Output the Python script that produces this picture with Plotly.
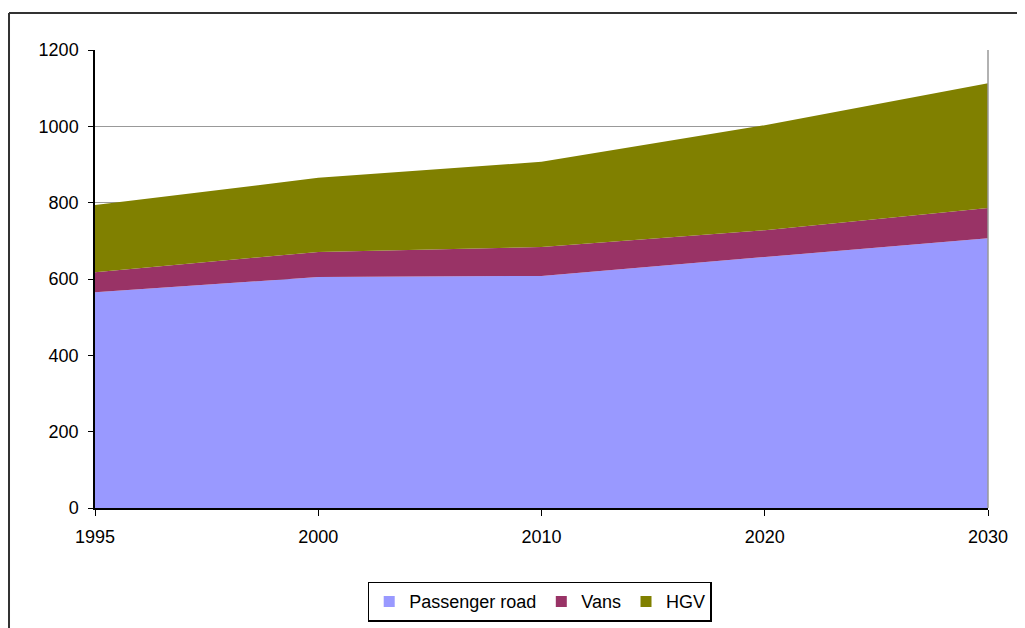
import plotly.graph_objects as go

years = ["1995", "2000", "2010", "2020", "2030"]
passenger_road = [565, 605, 608, 658, 707]
vans = [53, 66, 76, 70, 79]
hgv = [176, 194, 223, 275, 327]
y_ticks = [0, 200, 400, 600, 800, 1000, 1200]

series = [
    ("Passenger road", passenger_road, "#9999FF"),
    ("Vans", vans, "#993366"),
    ("HGV", hgv, "#808000"),
]

fig = go.Figure()
for name, values, color in series:
    fig.add_trace(
        go.Scatter(
            x=years,
            y=values,
            name=name,
            mode="lines",
            stackgroup="one",
            line=dict(width=0, color=color),
            fillcolor=color,
            showlegend=False,
        )
    )
    # square legend keys like the original
    fig.add_trace(
        go.Scatter(
            x=[None],
            y=[None],
            name=name,
            mode="markers",
            marker=dict(symbol="square", size=11, color=color),
        )
    )

fig.update_layout(
    width=1017,
    height=620,
    margin=dict(l=87, r=37, t=42, b=120, autoexpand=False),
    paper_bgcolor="white",
    plot_bgcolor="white",
    font=dict(family="Liberation Sans, Arial, sans-serif", color="black", size=18),
    showlegend=True,
    legend=dict(
        orientation="h",
        x=0.498,
        xanchor="center",
        y=-0.161,
        yanchor="top",
        bordercolor="black",
        borderwidth=1.5,
        font=dict(size=18),
        traceorder="normal",
        itemwidth=30,
        tracegroupgap=0,
    ),
    xaxis=dict(
        type="category",
        range=[0, 4],
        showline=True,
        linecolor="black",
        linewidth=1.5,
        ticks="outside",
        ticklen=6,
        tickcolor="black",
        showgrid=False,
        tickfont=dict(size=18),
        ticklabelstandoff=6,
        zeroline=False,
    ),
    yaxis=dict(
        range=[0, 1200],
        tickvals=y_ticks,
        showline=True,
        linecolor="black",
        linewidth=1.5,
        ticks="outside",
        ticklen=5,
        tickcolor="black",
        showgrid=True,
        gridcolor="#999999",
        gridwidth=1.2,
        zeroline=False,
        tickfont=dict(size=18),
        ticklabelstandoff=6,
    ),
    shapes=[
        dict(
            type="line", xref="paper", yref="paper",
            x0=1, x1=1, y0=0, y1=1,
            line=dict(color="#999999", width=1.5),
        ),
        # outer frame: only the left and top edges are inside the picture
        dict(
            type="line", xref="paper", yref="paper",
            x0=-0.0963, x1=-0.0963, y0=-0.3, y1=1.0808,
            line=dict(color="#333333", width=2),
        ),
        dict(
            type="line", xref="paper", yref="paper",
            x0=-0.0963, x1=1.1, y0=1.0808, y1=1.0808,
            line=dict(color="#333333", width=2),
        ),
    ],
)

fig.write_html("out.html")
